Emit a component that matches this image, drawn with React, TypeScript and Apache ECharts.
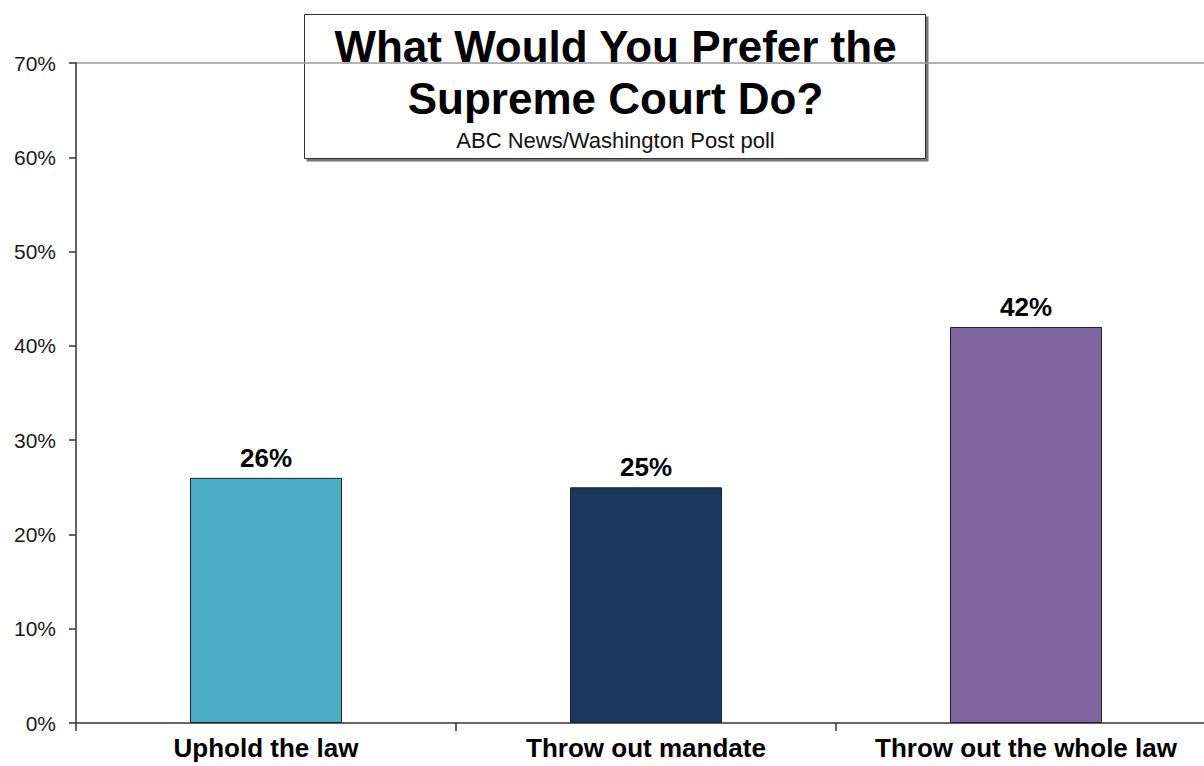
import React, { useEffect, useRef } from "react";
import * as echarts from "echarts";

const categories = ["Uphold the law", "Throw out mandate", "Throw out the whole law"];
const values = [26, 25, 42];
const barColors = ["#4BACC6", "#1B375D", "#8064A2"];
const yTicks = [0, 10, 20, 30, 40, 50, 60, 70];
const titleLines = ["What Would You Prefer the", "Supreme Court Do?"];
const subtitle = "ABC News/Washington Post poll";

const FONT = "Arial, 'Liberation Sans', sans-serif";

export default function App() {
  const ref = useRef<HTMLDivElement>(null);
  useEffect(() => {
    document.body.style.margin = "0";
    document.body.style.overflow = "hidden";
    const chart = echarts.init(ref.current!, null, { renderer: "svg" });
    chart.setOption({
      animation: false,
      backgroundColor: "#ffffff",
      grid: { left: 76, right: 0, top: 63, bottom: 43, containLabel: false },
      xAxis: {
        type: "category",
        data: categories,
        axisLine: { show: true, lineStyle: { color: "#333", width: 1.5 } },
        axisTick: { show: true, interval: 0, length: 8, lineStyle: { color: "#333", width: 1.5 } },
        axisLabel: {
          interval: 0,
          color: "#000",
          fontFamily: FONT,
          fontWeight: "bold",
          fontSize: 26,
          margin: 12,
        },
      },
      yAxis: {
        type: "value",
        min: yTicks[0],
        max: yTicks[yTicks.length - 1],
        interval: 10,
        axisLine: { show: true, lineStyle: { color: "#333", width: 1.5 } },
        axisTick: { show: true, length: 7, lineStyle: { color: "#333", width: 1.5 } },
        axisLabel: {
          color: "#1a1a1a",
          fontFamily: FONT,
          fontSize: 21,
          margin: 20,
          formatter: (v: number) => v + "%",
        },
        splitLine: {
          show: true,
          lineStyle: {
            color: yTicks.map((t, i) => (i === yTicks.length - 1 ? "#999999" : "rgba(0,0,0,0)")),
            width: 1.5,
          },
        },
      },
      series: [
        {
          type: "bar",
          barWidth: "40%",
          data: values.map((v, i) => ({
            value: v,
            itemStyle: { color: barColors[i], borderColor: "#222", borderWidth: 1 },
          })),
          label: {
            show: true,
            position: "top",
            distance: 7,
            color: "#000",
            fontFamily: FONT,
            fontWeight: "bold",
            fontSize: 26,
            formatter: (p: any) => p.value + "%",
          },
        },
      ],
      graphic: [
        {
          type: "group",
          left: 304,
          top: 14,
          children: [
            {
              type: "rect",
              shape: { x: 2, y: 2, width: 622, height: 145 },
              style: { fill: "#777" },
            },
            {
              type: "rect",
              shape: { x: 0, y: 0, width: 621, height: 144 },
              style: { fill: "#fff", stroke: "#333", lineWidth: 1 },
            },
            {
              type: "text",
              x: 311,
              y: 32,
              style: {
                text: titleLines[0],
                font: "bold 44px " + FONT,
                fill: "#000",
                textAlign: "center",
                textVerticalAlign: "middle",
              },
            },
            {
              type: "text",
              x: 311,
              y: 84,
              style: {
                text: titleLines[1],
                font: "bold 44px " + FONT,
                fill: "#000",
                textAlign: "center",
                textVerticalAlign: "middle",
              },
            },
            {
              type: "text",
              x: 311,
              y: 126,
              style: {
                text: subtitle,
                font: "22px " + FONT,
                fill: "#111",
                textAlign: "center",
                textVerticalAlign: "middle",
              },
            },
          ],
        },
      ],
    });
    return () => chart.dispose();
  }, []);
  return (
    <div style={{ width: 1204, height: 766, overflow: "hidden" }}>
      <div ref={ref} style={{ width: 1216, height: 766 }} />
    </div>
  );
}
